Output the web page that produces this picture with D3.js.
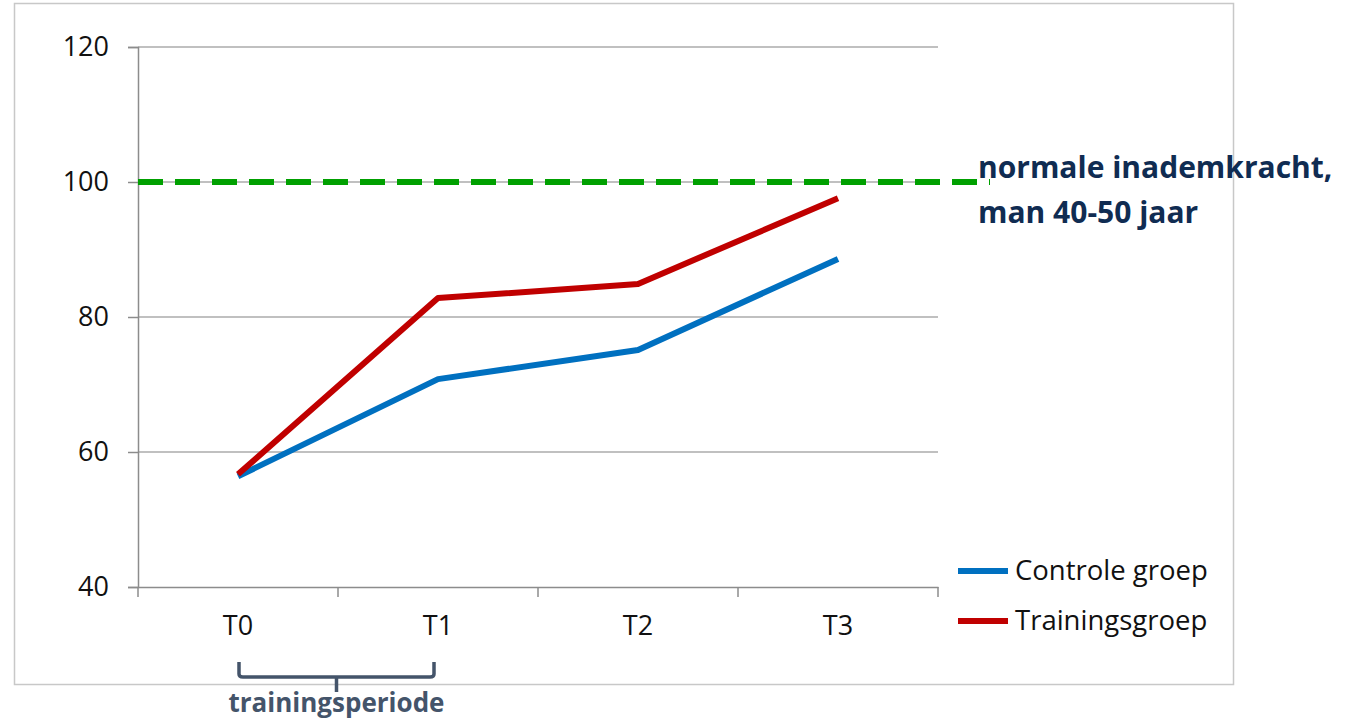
<!DOCTYPE html>
<html>
<head>
<meta charset="utf-8">
<script src="https://cdn.jsdelivr.net/npm/d3@7"></script>
<style>
  html, body { margin: 0; padding: 0; background: #fff; }
  svg { display: block; }
</style>
</head>
<body>
<svg id="chart" width="1352" height="723"></svg>
<script>
// Inspiratory strength per measurement moment
const categories = ["T0", "T1", "T2", "T3"];
const controlValues = [56.4, 70.8, 75.1, 88.6];
const trainingValues = [56.7, 82.8, 84.9, 97.6];
const yTicks = [40, 60, 80, 100, 120];
const normValue = 100;
const seriesNames = ["Controle groep", "Trainingsgroep"];
const normLabel = ["normale inademkracht,", "man 40-50 jaar"];
const periodLabel = "trainingsperiode";

const svg = d3.select("#chart");
const font = "'Open Sans', 'Liberation Sans', sans-serif";

// chart area frame
svg.append("rect")
  .attr("x", 14.5).attr("y", 3.5)
  .attr("width", 1219).attr("height", 681)
  .attr("fill", "#fff").attr("stroke", "#c8c8c8").attr("stroke-width", 1.5);

const plot = { left: 138, right: 938, top: 47, bottom: 587 };

const x = d3.scaleBand().domain(categories).range([plot.left, plot.right]);
const y = d3.scaleLinear().domain([40, 120]).range([plot.bottom, plot.top]);
const xc = d => x(d) + x.bandwidth() / 2;

// horizontal gridlines
svg.append("g").selectAll("line")
  .data(yTicks.filter(t => t > 40))
  .join("line")
  .attr("x1", plot.left).attr("x2", plot.right)
  .attr("y1", d => y(d)).attr("y2", d => y(d))
  .attr("stroke", "#ababab").attr("stroke-width", 1.5);

// y axis
const yAxis = svg.append("g")
  .attr("transform", `translate(${plot.left},0)`)
  .call(d3.axisLeft(y).tickValues(yTicks).tickSize(10).tickPadding(19));
yAxis.select(".domain").attr("stroke", "#8c8c8c").attr("stroke-width", 1.5);
yAxis.selectAll(".tick line").attr("stroke", "#8c8c8c").attr("stroke-width", 1.5);
yAxis.selectAll(".tick text")
  .attr("font-family", font).attr("font-size", 27).attr("fill", "#111");

// x axis
const xAxis = svg.append("g")
  .attr("transform", `translate(0,${plot.bottom})`)
  .call(d3.axisBottom(x).tickSize(0).tickPadding(29));
xAxis.select(".domain").attr("stroke", "#8c8c8c").attr("stroke-width", 1.5);
xAxis.selectAll(".tick text")
  .attr("font-family", font).attr("font-size", 27).attr("fill", "#111");
// category boundary ticks
svg.append("g").selectAll("line")
  .data(d3.range(categories.length + 1))
  .join("line")
  .attr("x1", i => plot.left + i * x.bandwidth())
  .attr("x2", i => plot.left + i * x.bandwidth())
  .attr("y1", plot.bottom).attr("y2", plot.bottom + 10)
  .attr("stroke", "#8c8c8c").attr("stroke-width", 1.5);

// reference level (dashed)
svg.append("line")
  .attr("x1", plot.left).attr("x2", 990)
  .attr("y1", y(normValue)).attr("y2", y(normValue))
  .attr("stroke", "#00a000").attr("stroke-width", 6)
  .attr("stroke-dasharray", "25,12");

svg.append("text")
  .attr("font-family", font).attr("font-weight", 700)
  .attr("font-size", 30).attr("fill", "#102c52")
  .selectAll("tspan").data(normLabel).join("tspan")
  .attr("x", 978).attr("y", (d, i) => 178 + i * 45)
  .text(d => d);

// series lines
const line = d3.line().x((d, i) => xc(categories[i])).y(d => y(d));
const series = [
  { name: seriesNames[0], values: controlValues, color: "#0070c0" },
  { name: seriesNames[1], values: trainingValues, color: "#c00000" }
];
svg.append("g").selectAll("path")
  .data(series)
  .join("path")
  .attr("d", d => line(d.values))
  .attr("fill", "none")
  .attr("stroke", d => d.color)
  .attr("stroke-width", 6)
  .attr("stroke-linejoin", "round");

// legend
const legend = svg.append("g").selectAll("g")
  .data(series).join("g")
  .attr("transform", (d, i) => `translate(958,${571 + i * 50})`);
legend.append("line")
  .attr("x1", 0).attr("x2", 50).attr("y1", 0).attr("y2", 0)
  .attr("stroke", d => d.color).attr("stroke-width", 6);
legend.append("text")
  .attr("x", 57).attr("y", 9)
  .attr("font-family", font).attr("font-size", 27.5).attr("fill", "#111")
  .text(d => d.name);

// training period bracket between T0 and T1
const bx0 = xc(categories[0]) + 1, bx1 = xc(categories[1]) - 4;
const bmid = (bx0 + bx1) / 2;
const bTop = 662, bBot = 677, bTip = 692;
const bracket = d3.path();
bracket.moveTo(bx0, bTop);
bracket.lineTo(bx0, bBot - 3);
bracket.quadraticCurveTo(bx0, bBot, bx0 + 4, bBot);
bracket.lineTo(bx1 - 4, bBot);
bracket.quadraticCurveTo(bx1, bBot, bx1, bBot - 3);
bracket.lineTo(bx1, bTop);
bracket.moveTo(bmid, bBot);
bracket.lineTo(bmid, bTip);
svg.append("path")
  .attr("d", bracket.toString())
  .attr("fill", "none").attr("stroke", "#44546a").attr("stroke-width", 3.5);

svg.append("text")
  .attr("x", bmid).attr("y", 712)
  .attr("text-anchor", "middle")
  .attr("font-family", font).attr("font-weight", 700)
  .attr("font-size", 26).attr("fill", "#44546a")
  .text(periodLabel);
</script>
</body>
</html>
